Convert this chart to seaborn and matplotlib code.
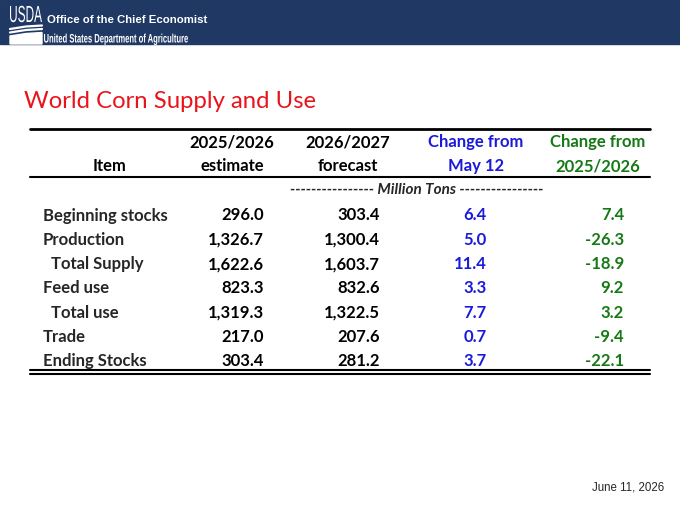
import numpy as np
import matplotlib.pyplot as plt
import seaborn as sns
from matplotlib.textpath import TextPath
from matplotlib.patches import PathPatch
from matplotlib.font_manager import FontProperties
from matplotlib.transforms import Affine2D

title = "World Corn Supply and Use"
items = ["Beginning stocks", "Production", "  Total Supply", "Feed use",
         "  Total use", "Trade", "Ending Stocks"]
est_2025 = ["296.0", "1,326.7", "1,622.6", "823.3", "1,319.3", "217.0", "303.4"]
fc_2026 = ["303.4", "1,300.4", "1,603.7", "832.6", "1,322.5", "207.6", "281.2"]
chg_may = ["6.4", "5.0", "11.4", "3.3", "7.7", "0.7", "3.7"]
chg_year = ["7.4", "-26.3", "-18.9", "9.2", "3.2", "-9.4", "-22.1"]
headers = [("", "Item"), ("2025/2026", "estimate"), ("2026/2027", "forecast"),
           ("Change from", "May 12"), ("Change from", "2025/2026")]

navy = "#1f3864"
blue = "#1a1adb"
green = "#157a15"
red = "#e8141c"

sns.set_style("white")
plt.rcParams['font.family'] = ['Lato', 'DejaVu Sans']


def squeezed_text(ax, s, x0, x1, y_base, cap, weight="normal"):
    # draw text stretched to fit between x0 and x1 with given cap height
    tp = TextPath((0, 0), s, size=10, prop=FontProperties(family="Liberation Sans", weight=weight))
    ext = tp.get_extents()
    sx = (x1 - x0) / ext.width
    sy = cap / 7.3
    tr = Affine2D().translate(-ext.x0, 0).scale(sx, -sy).translate(x0, y_base)
    ax.add_patch(PathPatch(tr.transform_path(tp), color="white", lw=0, zorder=2))


fig = plt.figure(figsize=(6.8, 5.05), dpi=100)
ax = fig.add_axes([0, 0, 1, 1])
ax.set_xlim(0, 680)
ax.set_ylim(505, 0)
ax.axis("off")

# banner
ax.add_patch(plt.Rectangle((0, 0), 680, 44, color=navy, zorder=0))
squeezed_text(ax, "USDA", 10, 42, 22, 17)
ax.plot([10, 26, 42], [29, 26.5, 25.5], color="white", lw=1.6)
ax.plot([10, 26, 42], [32.5, 30, 29], color="white", lw=1.6)
ax.add_patch(plt.Polygon([[10, 36], [26, 33.5], [42, 32.5], [42, 44], [10, 44]],
                         color="white", zorder=1))
ax.text(47, 20, "Office of the Chief Economist", color="white", fontsize=8.2,
        family="Liberation Sans", weight="bold", va="center")
squeezed_text(ax, "United States Department of Agriculture", 44, 188, 42.5, 9, "bold")

ax.text(24, 101.5, title, color=red, fontsize=17.2, va="center", ha="left")

# table rules
ax.plot([30, 650], [129, 129], color="black", lw=2)
ax.plot([30, 650], [177, 177], color="black", lw=1.5)
ax.plot([30, 650], [370, 370], color="black", lw=1.5)
ax.plot([30, 650], [373.5, 373.5], color="black", lw=1.5)

centers = [110, 232, 348, 476, 598]
hcolors = ["black", "black", "black", blue, green]
for (top, bottom), cx, col in zip(headers, centers, hcolors):
    ax.text(cx, 142.5, top, ha="center", va="center", fontsize=12, weight="bold", color=col)
    ax.text(cx, 166, bottom, ha="center", va="center", fontsize=12, weight="bold", color=col)

ax.text(416.5, 190.5, "---------------- Million Tons ----------------", ha="center", va="center",
        fontsize=11, weight="bold", style="italic")

row_y = np.arange(len(items)) * 24.3 + 215.5
rights = [264, 380, 487, 624]
cols = [est_2025, fc_2026, chg_may, chg_year]
ccolors = ["black", "black", blue, green]
for i, y in enumerate(row_y):
    ax.text(43, y, items[i], ha="left", va="center", fontsize=12, weight="bold")
    for vals, rx, col in zip(cols, rights, ccolors):
        ax.text(rx, y, vals[i], ha="right", va="center", fontsize=12, weight="bold", color=col)

ax.text(664, 487, "June 11, 2026", ha="right", va="center", fontsize=8.3,
        family="Liberation Sans")

fig.savefig("out.png", dpi=100)
